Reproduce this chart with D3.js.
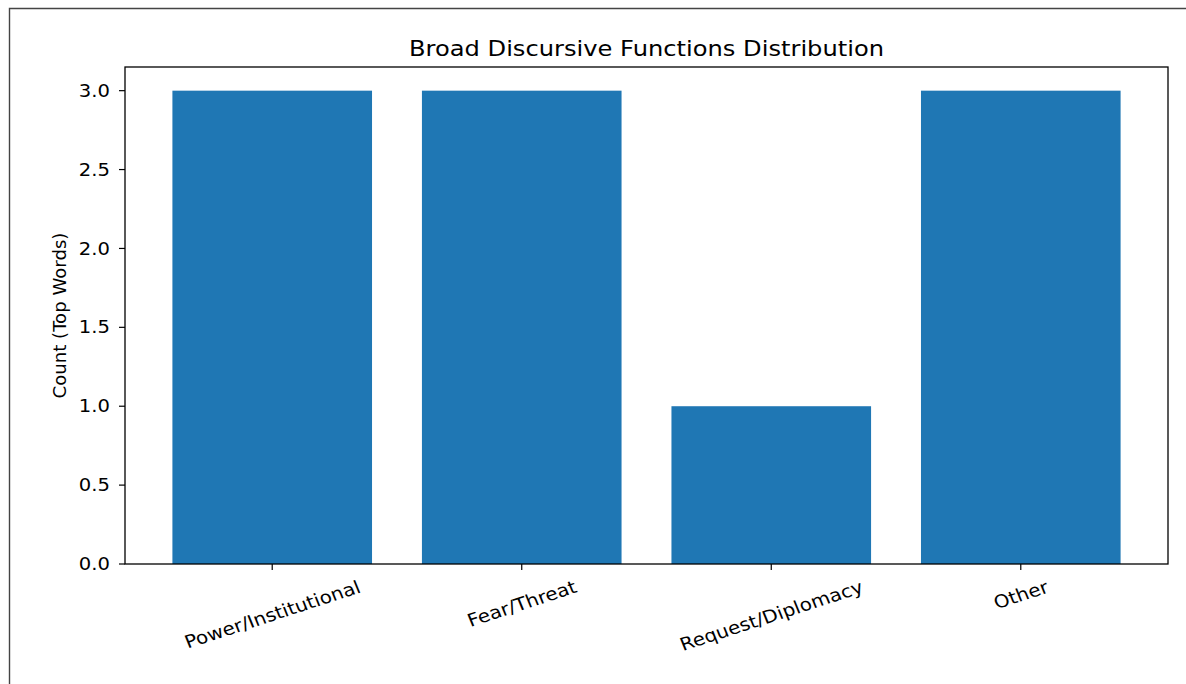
<!DOCTYPE html>
<html>
<head>
<meta charset="utf-8">
<script src="https://cdn.jsdelivr.net/npm/d3@7"></script>
<style>
  html, body { margin: 0; padding: 0; background: #fff; }
  svg { display: block; }
  text { font-family: "DejaVu Sans", sans-serif; fill: #000; }
</style>
</head>
<body>
<svg id="chart" width="1186" height="684"></svg>
<script>
// Data
const categories = ["Power/Institutional", "Fear/Threat", "Request/Diplomacy", "Other"];
const counts = [3, 3, 1, 3];
const yTicks = [0, 0.5, 1.0, 1.5, 2.0, 2.5, 3.0];
const titleText = "Broad Discursive Functions Distribution";
const yLabelText = "Count (Top Words)";

const W = 1186, H = 684;
const plot = { left: 125, right: 1168, top: 67, bottom: 564 };
const sx = 1.12; // horizontal glyph stretch

const svg = d3.select("#chart");

// Outer frame
svg.append("path")
  .attr("d", `M9.5,${H} L9.5,8.5 L${W},8.5`)
  .attr("fill", "none")
  .attr("stroke", "#444")
  .attr("stroke-width", 1.4);

// Scales (matplotlib-like margins)
const n = categories.length;
const barW = 0.8;
const xMin = -barW / 2 - 0.05 * (n - 1 + barW), xMax = n - 1 + barW / 2 + 0.05 * (n - 1 + barW);
const x = d3.scaleLinear().domain([xMin, xMax]).range([plot.left, plot.right]);
const yMax = d3.max(counts) * 1.05;
const y = d3.scaleLinear().domain([0, yMax]).range([plot.bottom, plot.top]);

// Bars
svg.append("g").selectAll("rect")
  .data(counts)
  .join("rect")
  .attr("x", (d, i) => x(i - barW / 2))
  .attr("width", (d, i) => x(i + barW / 2) - x(i - barW / 2))
  .attr("y", d => y(d))
  .attr("height", d => y(0) - y(d))
  .attr("fill", "#1f77b4");

// Axes frame
svg.append("rect")
  .attr("x", plot.left).attr("y", plot.top)
  .attr("width", plot.right - plot.left).attr("height", plot.bottom - plot.top)
  .attr("fill", "none").attr("stroke", "#000").attr("stroke-width", 1.3);

// Y axis ticks and labels
const yAxis = svg.append("g");
yTicks.forEach(t => {
  const yy = y(t);
  yAxis.append("line")
    .attr("x1", plot.left - 6).attr("x2", plot.left)
    .attr("y1", yy).attr("y2", yy)
    .attr("stroke", "#000").attr("stroke-width", 1.2);
  yAxis.append("text")
    .attr("transform", `translate(${plot.left - 15},${yy}) scale(${sx},1)`)
    .attr("text-anchor", "end")
    .attr("dominant-baseline", "central")
    .attr("font-size", 17.5)
    .text(d3.format(".1f")(t));
});

// X axis ticks and rotated labels
const xAxis = svg.append("g");
categories.forEach((c, i) => {
  const xx = x(i);
  xAxis.append("line")
    .attr("x1", xx).attr("x2", xx)
    .attr("y1", plot.bottom).attr("y2", plot.bottom + 6)
    .attr("stroke", "#000").attr("stroke-width", 1.2);
  const fs = 17.8, ang = 20 * Math.PI / 180;
  const t = xAxis.append("text")
    .attr("text-anchor", "middle")
    .attr("dominant-baseline", "central")
    .attr("font-size", fs)
    .text(c);
  const L = t.node().getComputedTextLength();
  const h = fs * 1.17;
  const bh = L * Math.sin(ang) + h * Math.cos(ang);
  const cy = plot.bottom + 6 + 6 + bh / 2;
  t.attr("transform", `translate(${xx},${cy}) scale(${sx},1) rotate(-20)`);
});

// Title
svg.append("text")
  .attr("transform", `translate(${(plot.left + plot.right) / 2},${plot.top - 11}) scale(1.14,1)`)
  .attr("text-anchor", "middle")
  .attr("font-size", 21.2)
  .text(titleText);

// Y label
svg.append("text")
  .attr("transform", `translate(66,${(plot.top + plot.bottom) / 2}) rotate(-90)`)
  .attr("text-anchor", "middle")
  .attr("font-size", 18.1)
  .text(yLabelText);
</script>
</body>
</html>
